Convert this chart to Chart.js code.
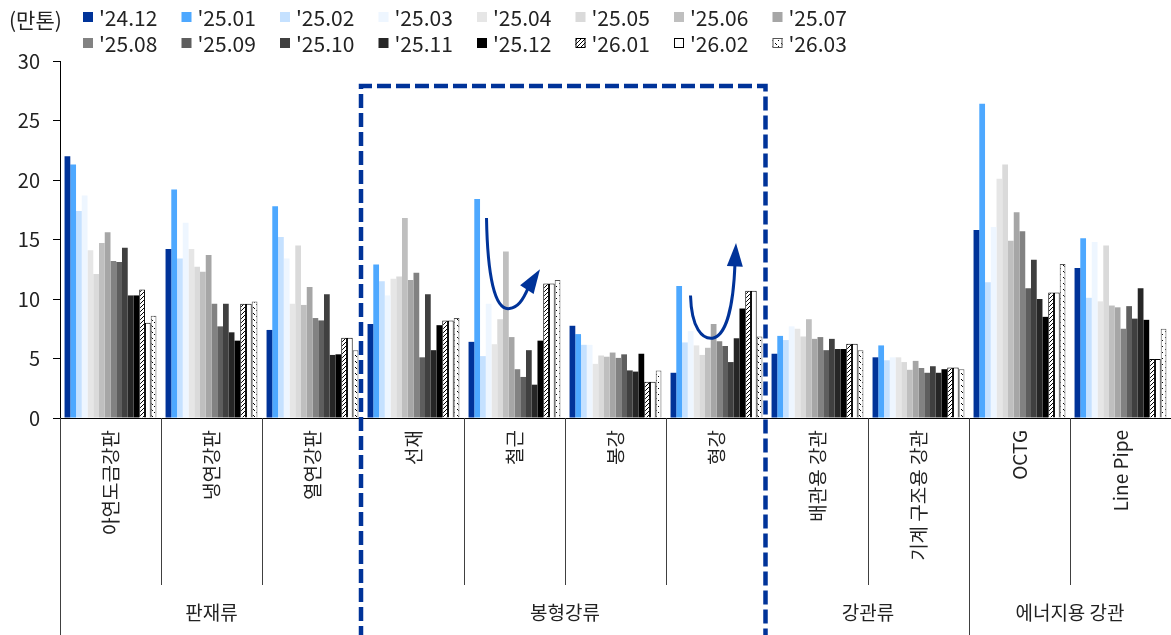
<!DOCTYPE html>
<html>
<head>
<meta charset="utf-8">
<script src="https://cdn.jsdelivr.net/npm/chart.js@4.4.0/dist/chart.umd.min.js"></script>
<style>
  html, body { margin: 0; padding: 0; background: #fff; }
  #wrap { width: 1171px; height: 635px; position: relative; }
</style>
</head>
<body>
<div id="wrap"><canvas id="chart"></canvas></div>
<script>
// 카테고리 / 그룹
var categories = ["아연도금강판", "냉연강판", "열연강판", "선재", "철근", "봉강", "형강", "배관용 강관", "기계 구조용 강관", "OCTG", "Line Pipe"];
var groups = ["판재류", "봉형강류", "강관류", "에너지용 강관"];
var groupSizes = [3, 4, 2, 2];
var months = ["'24.12", "'25.01", "'25.02", "'25.03", "'25.04", "'25.05", "'25.06", "'25.07",
              "'25.08", "'25.09", "'25.10", "'25.11", "'25.12", "'26.01", "'26.02", "'26.03"];
var yTicks = [0, 5, 10, 15, 20, 25, 30];

// 월별 값 (만톤), 카테고리 순서대로
var v2412 = [22.0, 14.2, 7.4, 7.9, 6.4, 7.75, 3.8, 5.4, 5.1, 15.8, 12.6];
var v2501 = [21.3, 19.2, 17.8, 12.9, 18.4, 7.05, 11.1, 6.9, 6.1, 26.4, 15.1];
var v2502 = [17.4, 13.4, 15.2, 11.5, 5.2, 6.15, 6.35, 6.55, 4.85, 11.4, 10.1];
var v2503 = [18.7, 16.4, 13.4, 10.3, 9.6, 6.15, 7.3, 7.7, 5.1, 16.05, 14.8];
var v2504 = [14.1, 14.2, 9.6, 11.7, 6.2, 4.55, 6.1, 7.5, 5.1, 20.1, 9.8];
var v2505 = [12.1, 12.7, 14.5, 11.9, 8.3, 5.25, 5.3, 6.85, 4.7, 21.3, 14.5];
var v2506 = [14.7, 12.3, 9.5, 16.8, 14.0, 5.15, 5.9, 8.3, 4.05, 14.9, 9.45];
var v2507 = [15.6, 13.7, 11.0, 11.6, 6.8, 5.5, 7.9, 6.65, 4.8, 17.3, 9.3];
var v2508 = [13.2, 9.6, 8.4, 12.2, 4.1, 5.05, 6.45, 6.8, 4.2, 15.7, 7.5];
var v2509 = [13.1, 7.7, 8.2, 5.1, 3.45, 5.35, 6.05, 5.7, 3.8, 10.9, 9.4];
var v2510 = [14.3, 9.6, 10.4, 10.4, 5.7, 4.0, 4.7, 6.65, 4.35, 13.3, 8.35];
var v2511 = [10.3, 7.2, 5.3, 5.7, 2.8, 3.9, 6.7, 5.8, 3.8, 10.0, 10.9];
var v2512 = [10.3, 6.5, 5.35, 7.8, 6.5, 5.4, 9.2, 5.8, 4.1, 8.5, 8.25];
var v2601 = [10.8, 9.6, 6.75, 8.2, 11.3, 3.05, 10.7, 6.25, 4.25, 10.55, 4.95];
var v2602 = [8.0, 9.6, 6.75, 8.2, 11.3, 3.05, 10.7, 6.25, 4.25, 10.55, 4.95];
var v2603 = [8.6, 9.8, 5.7, 8.4, 11.6, 4.0, 6.85, 5.7, 4.1, 12.95, 7.5];

var seriesValues = [v2412, v2501, v2502, v2503, v2504, v2505, v2506, v2507,
                    v2508, v2509, v2510, v2511, v2512, v2601, v2602, v2603];

var FONT = "'Noto Sans CJK KR', 'Noto Sans', sans-serif";
var BLUE = "#003399";

var canvas = document.getElementById("chart");
var ctx = canvas.getContext("2d");

// 패턴 만들기
function makePattern(size, dots) {
  var c = document.createElement("canvas");
  c.width = size; c.height = size;
  var g = c.getContext("2d");
  g.fillStyle = "#fff";
  g.fillRect(0, 0, size, size);
  g.fillStyle = "#000";
  dots.forEach(function (d) { g.fillRect(d[0], d[1], 1, 1); });
  return ctx.createPattern(c, "repeat");
}
var hatchPattern = makePattern(4, [[3, 0], [2, 1], [1, 2], [0, 3]]);
var dotPattern = makePattern(6, [[1, 1], [2, 2], [4, 4]]);

var fills = ["#003399", "#4DA8FF", "#C5E1FF", "#EEF6FF", "#E6E6E6", "#DADADA", "#BFBFBF", "#A6A6A6",
             "#828282", "#5E5E5E", "#404040", "#262626", "#000000", hatchPattern, "#FFFFFF", dotPattern];
var borders = ["#000", "#000", "#555"];

var datasets = months.map(function (m, i) {
  var isPattern = i >= 13;
  return {
    label: m,
    data: seriesValues[i],
    backgroundColor: fills[i],
    borderColor: isPattern ? borders[i - 13] : fills[i],
    borderWidth: isPattern ? 1 : 0,
    categoryPercentage: 0.91,
    barPercentage: 1.0
  };
});

// 주석: 점선 박스, 곡선 화살표, 구분선, 그룹 라벨, 범례
var decorPlugin = {
  id: "decor",
  afterDatasetsDraw: function (chart) {
    var c = chart.ctx;
    var xs = chart.scales.x, ys = chart.scales.y;
    var area = chart.chartArea;
    var step = xs.getPixelForValue(1) - xs.getPixelForValue(0);
    function edge(i) { return xs.getPixelForValue(i) - step / 2; }
    function px(cat, dx) { return xs.getPixelForValue(cat) + dx; }
    function py(v) { return ys.getPixelForValue(v); }

    c.save();
    // 카테고리 구분선
    c.strokeStyle = "#404040";
    c.lineWidth = 1;
    var groupEdges = [0];
    var acc = 0;
    groupSizes.forEach(function (s) { acc += s; groupEdges.push(acc); });
    for (var i = 0; i < categories.length; i++) {
      if (i === 3 || i === 7) continue;
      var isGroup = groupEdges.indexOf(i) >= 0;
      var x = Math.round(edge(i)) + 0.5;
      c.beginPath();
      c.moveTo(x, area.bottom);
      c.lineTo(x, isGroup ? chart.height : area.bottom + 167);
      c.stroke();
    }

    // 그룹 라벨
    c.fillStyle = "#222";
    c.font = "19px " + FONT;
    c.textAlign = "center";
    c.textBaseline = "middle";
    for (var g = 0; g < groups.length; g++) {
      var mid = (edge(groupEdges[g]) + edge(groupEdges[g + 1])) / 2;
      c.fillText(groups[g], mid, area.bottom + 195);
    }

    // 점선 박스 (봉형강류)
    c.strokeStyle = BLUE;
    c.lineWidth = 4.5;
    c.setLineDash([14, 5]);
    var bx1 = edge(3) - 2, bx2 = edge(7) - 1.5, by1 = py(27.9);
    c.beginPath();
    c.moveTo(bx1, chart.height + 5);
    c.lineTo(bx1, by1);
    c.lineTo(bx2, by1);
    c.lineTo(bx2, chart.height + 5);
    c.stroke();
    c.setLineDash([]);

    // 곡선 화살표
    c.lineWidth = 3;
    c.fillStyle = BLUE;
    function arrow(cat, p) {
      c.beginPath();
      c.moveTo(px(cat, p.s[0]), py(p.s[1]));
      c.bezierCurveTo(px(cat, p.c1[0]), py(p.c1[1]), px(cat, p.c2[0]), py(p.c2[1]), px(cat, p.b[0]), py(p.b[1]));
      c.bezierCurveTo(px(cat, p.c3[0]), py(p.c3[1]), px(cat, p.c4[0]), py(p.c4[1]), px(cat, p.e[0]), py(p.e[1]));
      c.stroke();
      var tx = px(cat, p.t[0]), ty = py(p.t[1]);
      var ex = px(cat, p.e[0]), ey = py(p.e[1]);
      var ang = Math.atan2(ty - ey, tx - ex);
      var len = Math.hypot(tx - ex, ty - ey) + 3;
      c.beginPath();
      c.moveTo(tx, ty);
      c.lineTo(tx - len * Math.cos(ang) + 8 * Math.sin(ang), ty - len * Math.sin(ang) - 8 * Math.cos(ang));
      c.lineTo(tx - len * Math.cos(ang) - 8 * Math.sin(ang), ty - len * Math.sin(ang) + 8 * Math.cos(ang));
      c.closePath();
      c.fill();
    }
    arrow(4, { s: [-28, 16.8], c1: [-27, 12], c2: [-20, 9.0], b: [-5, 9.2],
               c3: [3, 9.3], c4: [8, 9.8], e: [14, 11.0], t: [25.5, 12.5] });
    arrow(6, { s: [-26, 10.3], c1: [-25, 7.5], c2: [-14, 6.6], b: [-4, 6.7],
               c3: [10, 6.9], c4: [17, 9.5], e: [18.5, 13.0], t: [19.5, 14.7] });
    c.restore();
  },
  afterDraw: function (chart) {
    var c = chart.ctx;
    c.save();
    c.font = "21px " + FONT;
    c.textBaseline = "middle";
    c.textAlign = "left";
    c.fillStyle = "#222";
    c.fillText("(만톤)", 9, 20);
    chart.data.datasets.forEach(function (ds, i) {
      var col = i % 8, row = Math.floor(i / 8);
      var bx = 83 + col * 98.5;
      var cy = row === 0 ? 17 : 43;
      c.fillStyle = ds.backgroundColor;
      c.fillRect(bx, cy - 5, 10, 10);
      if (ds.borderWidth) {
        c.strokeStyle = ds.borderColor;
        c.lineWidth = 1;
        c.strokeRect(bx + 0.5, cy - 4.5, 9, 9);
      }
      c.fillStyle = "#222";
      c.fillText(ds.label, bx + 16, cy + 1);
    });
    c.restore();
  }
};

new Chart(ctx, {
  type: "bar",
  data: { labels: categories, datasets: datasets },
  options: {
    responsive: true,
    maintainAspectRatio: false,
    animation: false,
    layout: { padding: { top: 61, left: 0, right: 0, bottom: 0 } },
    plugins: {
      legend: { display: false },
      tooltip: { enabled: false }
    },
    scales: {
      x: {
        grid: { display: false, drawTicks: false },
        border: { display: true, color: "#000", width: 1 },
        ticks: {
          autoSkip: false,
          minRotation: 90,
          maxRotation: 90,
          padding: 12,
          color: "#222",
          font: { family: FONT, size: 19 }
        },
        afterFit: function (scale) { scale.height = 217; }
      },
      y: {
        min: 0,
        max: 30,
        afterBuildTicks: function (scale) {
          scale.ticks = yTicks.map(function (v) { return { value: v }; });
        },
        grid: { drawOnChartArea: false, drawTicks: true, tickLength: 7, color: "#000" },
        border: { display: true, color: "#000", width: 1 },
        ticks: {
          padding: 13,
          color: "#222",
          font: { family: FONT, size: 20 }
        },
        afterFit: function (scale) { scale.width = 60; }
      }
    }
  },
  plugins: [decorPlugin]
});
</script>
</body>
</html>
